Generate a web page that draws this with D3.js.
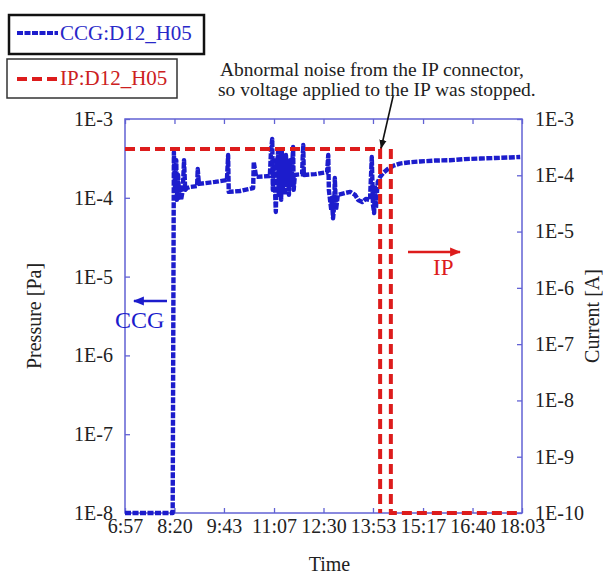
<!DOCTYPE html>
<html>
<head>
<meta charset="utf-8">
<script src="https://cdn.jsdelivr.net/npm/d3@7"></script>
<style>
  body { margin: 0; background: #fff; }
  svg { font-family: "Liberation Serif", "Times New Roman", serif; }
</style>
</head>
<body>
<div id="chart"></div>
<script>
// Time axis ticks (Excel style, every 1:23)
var timeTicks = ["6:57", "8:20", "9:43", "11:07", "12:30", "13:53", "15:17", "16:40", "18:03"];
var pressureTicks = [1e-8, 1e-7, 1e-6, 1e-5, 1e-4, 1e-3];
var currentTicks = [1e-10, 1e-9, 1e-8, 1e-7, 1e-6, 1e-5, 1e-4, 1e-3];

// CCG:D12_H05 pressure [Pa]
var ccgTime = ["6:57", "8:17", "8:19", "8:21", "8:23", "8:24", "8:26", "8:28", "8:29", "8:31",
  "8:34", "8:36", "8:38", "8:41", "8:46", "8:58", "8:59", "9:01", "9:28", "9:48",
  "9:50", "9:51", "10:10", "10:32", "10:33", "10:37", "11:00", "11:02", "11:04", "11:05",
  "11:07", "11:09", "11:10", "11:12", "11:14", "11:15", "11:17", "11:19", "11:20", "11:22",
  "11:24", "11:25", "11:27", "11:29", "11:30", "11:32", "11:34", "11:35", "11:37", "11:39",
  "11:40", "11:42", "11:54", "11:56", "11:57", "12:16", "12:36", "12:38", "12:39", "12:41",
  "12:43", "12:44", "12:46", "12:48", "12:49", "12:51", "12:53", "12:54", "13:06", "13:15",
  "13:23", "13:28", "13:35", "13:41", "13:48", "13:51", "13:53", "13:55", "13:56", "13:58",
  "14:00", "14:01", "14:05", "14:10", "14:18", "14:27", "14:38", "14:55", "15:12", "15:37",
  "16:02", "16:27", "16:53", "17:18", "17:43", "18:00"];
var ccgPressure = [1e-8, 1e-8, 3.8e-4, 1.26e-4, 3.0e-4, 9.4e-5, 1.95e-4, 1.0e-4, 1.45e-4, 9.4e-5,
  1.26e-4, 3.0e-4, 1.26e-4, 1.33e-4, 1.37e-4, 1.41e-4, 2.32e-4, 1.5e-4, 1.59e-4, 1.68e-4,
  3.49e-4, 1.19e-4, 1.22e-4, 1.33e-4, 2.85e-4, 1.84e-4, 1.89e-4, 4.05e-4, 5.57e-4, 1.26e-4,
  3.0e-4, 1.09e-4, 6.6e-5, 2.6e-4, 4.05e-4, 1.09e-4, 3.0e-4, 9.4e-5, 4.05e-4, 1.26e-4,
  2.6e-4, 1.09e-4, 3.49e-4, 1.45e-4, 2.25e-4, 1.09e-4, 3.0e-4, 1.45e-4, 1.95e-4, 4.41e-4,
  1.26e-4, 1.95e-4, 2.0e-4, 4.68e-4, 1.95e-4, 2.0e-4, 2.12e-4, 3.49e-4, 1.26e-4, 9.4e-5,
  7.0e-5, 1.0e-4, 5.5e-5, 8.1e-5, 1.78e-4, 7.0e-5, 9.4e-5, 1.09e-4, 1.15e-4, 1.19e-4,
  1.09e-4, 9.4e-5, 8.85e-5, 9.65e-5, 9.4e-5, 3.3e-4, 8.1e-5, 6.4e-5, 1.45e-4, 7.4e-5,
  1.26e-4, 1.59e-4, 1.84e-4, 2.06e-4, 2.32e-4, 2.55e-4, 2.72e-4, 2.83e-4, 2.89e-4, 2.97e-4,
  3.0e-4, 3.1e-4, 3.15e-4, 3.2e-4, 3.25e-4, 3.3e-4];

// IP:D12_H05 current [A]; null = gap in the trace
var ipTime = ["6:57", "14:05", "14:05", null, "14:23", "14:23", "17:55"];
var ipCurrent = [2.93e-4, 2.93e-4, 1e-10, null, 2.93e-4, 1e-10, 1e-10];

var W = 603, H = 575;
var margin = {top: 119, right: 81, bottom: 62, left: 125};
var w = W - margin.left - margin.right;
var h = H - margin.top - margin.bottom;

var blue = "#1c1ccc", red = "#dd1c1c", frame = "#6262d4";
var parseTime = d3.timeParse("%H:%M");

var x = d3.scaleTime()
  .domain([parseTime(timeTicks[0]), parseTime(timeTicks[timeTicks.length - 1])])
  .range([0, w]);
var yP = d3.scaleLog().domain([1e-8, 1e-3]).range([h, 0]);
var yI = d3.scaleLog().domain([1e-10, 1e-3]).range([h, 0]);

var expFormat = function(d) { return "1E" + Math.round(Math.log10(d)); };

var svg = d3.select("#chart").append("svg")
  .attr("width", W)
  .attr("height", H);

var defs = svg.append("defs");
function arrowMarker(id, color, size) {
  defs.append("marker")
    .attr("id", id)
    .attr("viewBox", "0 0 10 10")
    .attr("refX", 9).attr("refY", 5)
    .attr("markerWidth", size).attr("markerHeight", size)
    .attr("markerUnits", "userSpaceOnUse")
    .attr("orient", "auto")
    .append("path")
    .attr("d", "M0,1L10,5L0,9Z")
    .attr("fill", color);
}
arrowMarker("arrBlack", "#111", 9);
arrowMarker("arrBlue", blue, 11);
arrowMarker("arrRed", red, 11);

var g = svg.append("g").attr("transform", "translate(" + margin.left + "," + margin.top + ")");

// axes (ticks point inward)
var tickDates = timeTicks.map(parseTime);
var xAxis = g.append("g").attr("transform", "translate(0," + h + ")")
  .call(d3.axisBottom(x).tickValues(tickDates).tickFormat(d3.timeFormat("%-H:%M"))
    .tickSizeInner(-5).tickSizeOuter(0).tickPadding(6));
var xTop = g.append("g")
  .call(d3.axisTop(x).tickValues(tickDates).tickFormat("").tickSizeInner(-5).tickSizeOuter(0));
var yLeft = g.append("g")
  .call(d3.axisLeft(yP).tickValues(pressureTicks).tickFormat(expFormat)
    .tickSizeInner(-5).tickSizeOuter(0).tickPadding(12));
var yRight = g.append("g").attr("transform", "translate(" + w + ",0)")
  .call(d3.axisRight(yI).tickValues(currentTicks).tickFormat(expFormat)
    .tickSizeInner(-5).tickSizeOuter(0).tickPadding(13));

[xAxis, xTop, yLeft, yRight].forEach(function(a) {
  a.select(".domain").remove();
  a.selectAll(".tick line").attr("stroke", frame).attr("stroke-width", 1.3);
  a.selectAll("text").attr("font-size", 20).attr("fill", "#222")
    .attr("font-family", "'Liberation Serif', 'Times New Roman', serif");
});

g.append("rect")
  .attr("width", w).attr("height", h)
  .attr("fill", "none").attr("stroke", frame).attr("stroke-width", 1.5);

// series
var ccgData = ccgTime.map(function(t, i) { return {t: parseTime(t), v: ccgPressure[i]}; });
var ipData = ipTime.map(function(t, i) { return {t: t ? parseTime(t) : null, v: ipCurrent[i]}; });

var ccgLine = d3.line().x(function(d) { return x(d.t); }).y(function(d) { return yP(d.v); });
var ipLine = d3.line()
  .defined(function(d) { return d.t !== null; })
  .x(function(d) { return x(d.t); }).y(function(d) { return yI(d.v); });

g.append("path").datum(ccgData)
  .attr("d", ccgLine)
  .attr("fill", "none").attr("stroke", blue).attr("stroke-width", 4.4)
  .attr("stroke-dasharray", "6,1.5").attr("stroke-linejoin", "round");

g.append("path").datum(ipData)
  .attr("d", ipLine)
  .attr("fill", "none").attr("stroke", red).attr("stroke-width", 4)
  .attr("stroke-dasharray", "10,5");

// annotations
var stopX = x(parseTime(ipTime[1])), stopY = yI(ipCurrent[1]);
g.append("line")
  .attr("x1", stopX + 13).attr("y1", stopY - 53)
  .attr("x2", stopX + 1).attr("y2", stopY - 1)
  .attr("stroke", "#111").attr("stroke-width", 1.6)
  .attr("marker-end", "url(#arrBlack)");

var note = svg.append("text").attr("font-size", 19.5).attr("fill", "#222");
note.append("tspan").attr("x", 220).attr("y", 76).text("Abnormal noise from the IP connector,");
note.append("tspan").attr("x", 218).attr("y", 96).text("so voltage applied to the IP was stopped.");

g.append("line")
  .attr("x1", 42).attr("y1", 182).attr("x2", 9).attr("y2", 182)
  .attr("stroke", blue).attr("stroke-width", 2.6).attr("marker-end", "url(#arrBlue)");
g.append("text").attr("x", -10).attr("y", 209)
  .attr("font-size", 24).attr("fill", blue).text("CCG");

g.append("line")
  .attr("x1", 283).attr("y1", 133).attr("x2", 335).attr("y2", 133)
  .attr("stroke", red).attr("stroke-width", 2.6).attr("marker-end", "url(#arrRed)");
g.append("text").attr("x", 308).attr("y", 156)
  .attr("font-size", 23).attr("fill", red).text("IP");

// axis titles
svg.append("text")
  .attr("transform", "translate(41," + (margin.top + h / 2) + ") rotate(-90)")
  .attr("text-anchor", "middle").attr("font-size", 20).attr("fill", "#222")
  .text("Pressure [Pa]");
svg.append("text")
  .attr("transform", "translate(599," + (margin.top + h / 2) + ") rotate(-90)")
  .attr("text-anchor", "middle").attr("font-size", 20).attr("fill", "#222")
  .text("Current [A]");
svg.append("text")
  .attr("x", margin.left + w / 2 + 6).attr("y", 571)
  .attr("text-anchor", "middle").attr("font-size", 20).attr("fill", "#222")
  .text("Time");

// legend boxes
var leg1 = svg.append("g");
leg1.append("rect").attr("x", 9).attr("y", 15).attr("width", 195).attr("height", 39)
  .attr("fill", "#fff").attr("stroke", "#111").attr("stroke-width", 2.5);
leg1.append("line").attr("x1", 17).attr("x2", 58).attr("y1", 33).attr("y2", 33)
  .attr("stroke", blue).attr("stroke-width", 4).attr("stroke-dasharray", "6,1.5");
leg1.append("text").attr("x", 60).attr("y", 40).attr("font-size", 21).attr("fill", "#2828c8")
  .text("CCG:D12_H05");

var leg2 = svg.append("g");
leg2.append("rect").attr("x", 7).attr("y", 59).attr("width", 170).attr("height", 39)
  .attr("fill", "#fff").attr("stroke", "#333").attr("stroke-width", 1.5);
leg2.append("line").attr("x1", 17).attr("x2", 57).attr("y1", 79).attr("y2", 79)
  .attr("stroke", red).attr("stroke-width", 4).attr("stroke-dasharray", "10,5");
leg2.append("text").attr("x", 60).attr("y", 85).attr("font-size", 21).attr("fill", "#cc2020")
  .text("IP:D12_H05");
</script>
</body>
</html>
